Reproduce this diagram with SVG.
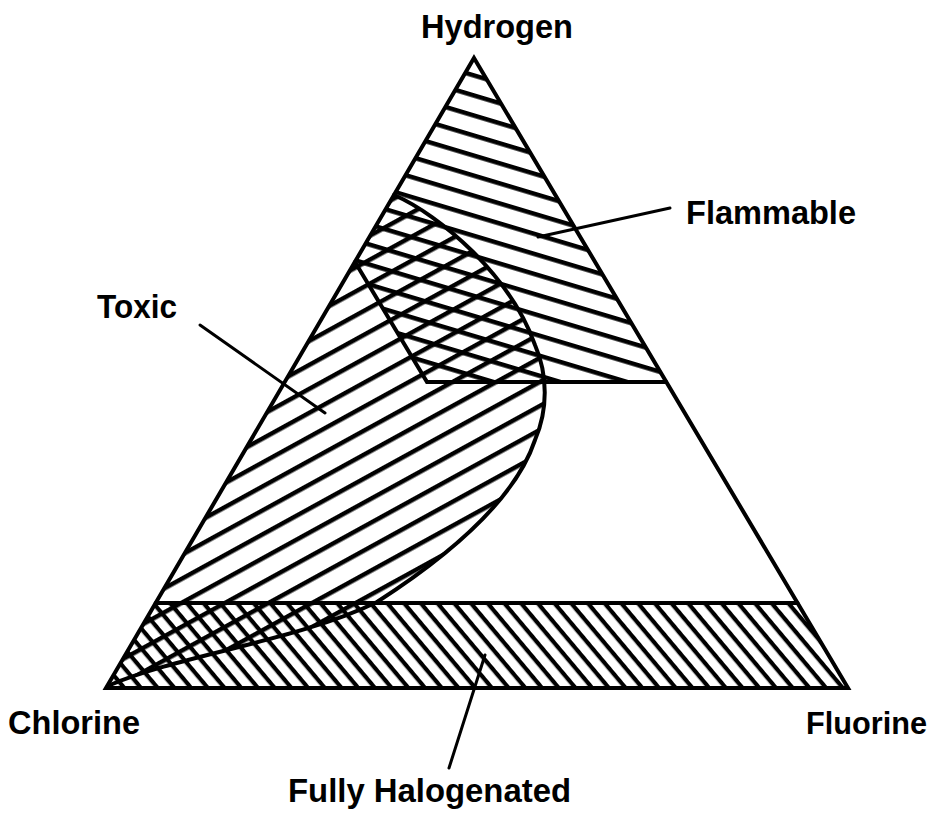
<svg xmlns="http://www.w3.org/2000/svg" width="937" height="829" viewBox="0 0 937 829">
<style>
.edge{fill:none;stroke:#000;stroke-width:4;stroke-linejoin:miter;stroke-linecap:round}
.bound{fill:none;stroke:#000;stroke-width:4;stroke-linecap:round}
.lead{fill:none;stroke:#000;stroke-width:3;stroke-linecap:round}
.lbl{font-family:"Liberation Sans",Arial,sans-serif;font-weight:bold;font-size:34px;fill:#000}
</style>
<defs>
<pattern id="hatchFlam" patternUnits="userSpaceOnUse" width="40" height="19.2" patternTransform="translate(480,115) rotate(16.7)">
<rect x="0" y="0" width="40" height="4.5" fill="#000"/>
</pattern>
<pattern id="hatchToxic" patternUnits="userSpaceOnUse" width="40" height="21" patternTransform="translate(246.7,444.7) rotate(-28.8)">
<rect x="0" y="0" width="40" height="4.5" fill="#000"/>
</pattern>
<pattern id="hatchHalo" patternUnits="userSpaceOnUse" width="40" height="12.8" patternTransform="translate(156,603) rotate(50)">
<rect x="0" y="0" width="40" height="4.2" fill="#000"/>
</pattern>
</defs>
<rect width="937" height="829" fill="#fff"/>

<g id="region-flammable">
<path d="M474,58 L666,382 L427,382 L355,262 Z" fill="url(#hatchFlam)"/>
<path class="bound" d="M355,262 L427,382 L666,382"/>
</g>

<g id="region-toxic">
<path d="M394,195 C440,215 510,275 535,345 C548,375 548,410 535,440 C515,500 450,555 377,602 C300,640 180,655 110,685 L106,688 Z" fill="url(#hatchToxic)"/>
<path class="bound" d="M394,195 C440,215 510,275 535,345 C548,375 548,410 535,440 C515,500 450,555 377,602 C300,640 180,655 110,685"/>
</g>

<g id="region-halogenated">
<path d="M155.7,603 L797.5,603 L848,688 L106,688 Z" fill="url(#hatchHalo)"/>
<path class="bound" d="M155.7,603 L797.5,603"/>
</g>

<g id="triangle">
<path class="edge" d="M474,58 L848,688 L106,688 Z"/>
</g>

<g id="connectors">
<path class="lead" d="M538,237 L670,208"/>
<path class="lead" d="M200,325 L325,413"/>
<path class="lead" d="M485,655 L449,768"/>
</g>

<g id="label-hydrogen"><text class="lbl" x="421" y="38" textLength="152" lengthAdjust="spacingAndGlyphs">Hydrogen</text></g>
<g id="label-flammable"><text class="lbl" x="686" y="224" textLength="170" lengthAdjust="spacingAndGlyphs">Flammable</text></g>
<g id="label-toxic"><text class="lbl" x="97" y="318" textLength="80" lengthAdjust="spacingAndGlyphs">Toxic</text></g>
<g id="label-chlorine"><text class="lbl" x="8" y="734" textLength="132" lengthAdjust="spacingAndGlyphs">Chlorine</text></g>
<g id="label-fluorine"><text class="lbl" x="927" y="734" text-anchor="end" style="font-size:32px" textLength="121" lengthAdjust="spacingAndGlyphs">Fluorine</text></g>
<g id="label-halogenated"><text class="lbl" x="288" y="802" textLength="283" lengthAdjust="spacingAndGlyphs">Fully  Halogenated</text></g>
</svg>
